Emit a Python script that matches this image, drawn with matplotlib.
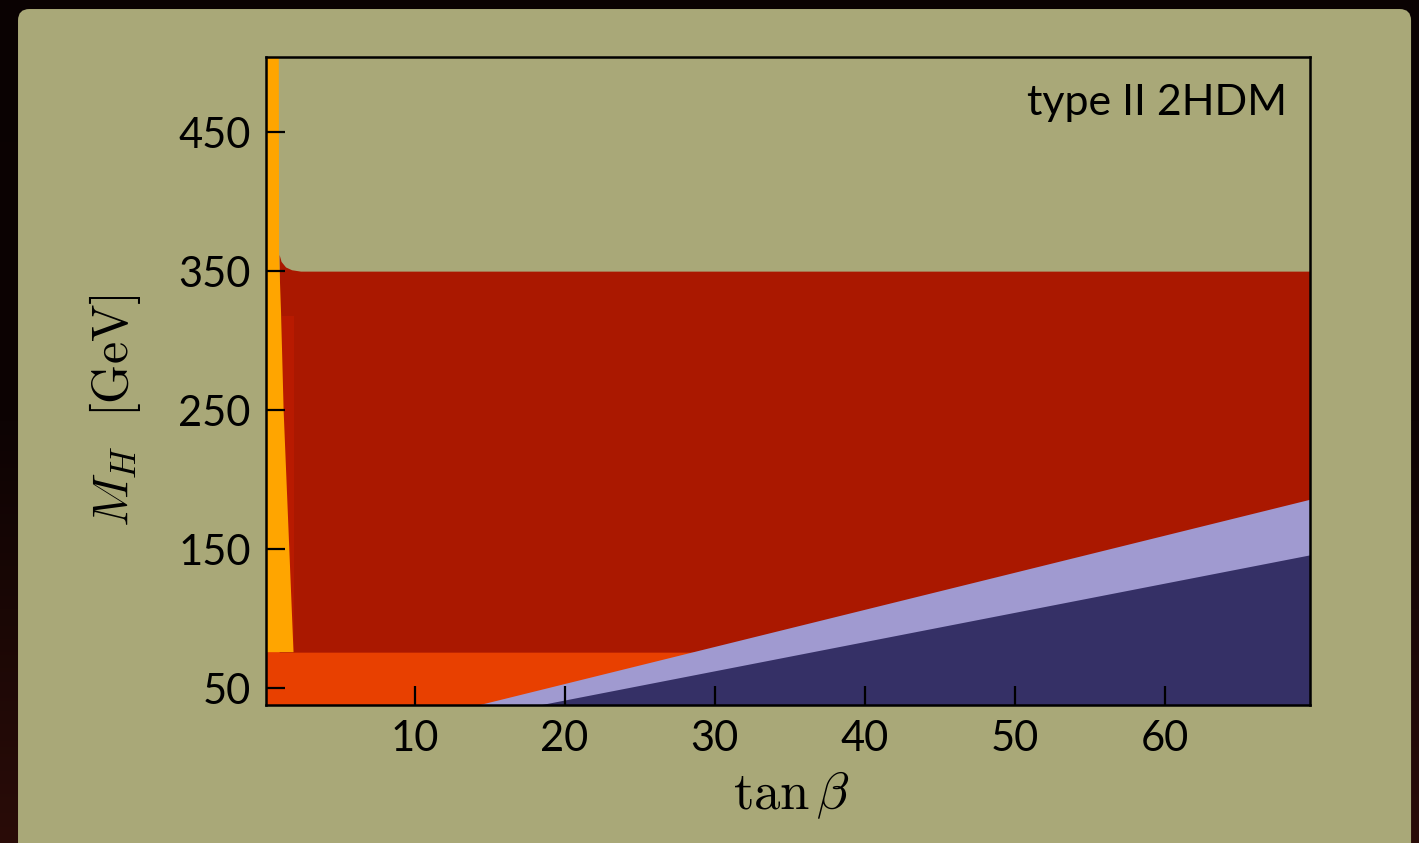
import matplotlib
matplotlib.use('Agg')
import matplotlib.pyplot as plt
import numpy as np
from matplotlib.patches import FancyBboxPatch

plt.rcParams['mathtext.fontset'] = 'cm'
plt.rcParams['font.family'] = ['Lato', 'DejaVu Sans']

# axis ranges
tanb_lim = [0.1, 69.7]
m_lim = [38, 504]

x_ticks = [10, 20, 30, 40, 50, 60]
y_ticks = [50, 150, 250, 350, 450]

# low-mass band (orange-red)
low_tanb = [0.1, 69.7]
low_top = [76, 76]

# big excluded region (dark red), rounded top-left corner
red_tanb = [0.97, 1.1, 1.4, 1.8, 2.4, 69.7]
red_top = [362, 357, 353, 351, 350, 350]
red_bottom = 76

# lighter red strip
strip_tanb = [1.15, 1.97]
strip_top = 318

# small tan beta band (orange)
orange_tanb = [0.1, 0.95, 0.97, 1.1, 1.27, 1.93, 0.1]
orange_m = [504, 504, 360, 320, 250, 76, 76]

# B -> tau nu type bands
lav_tanb = [14.2, 69.7]
lav_m = [38, 186]
blue_tanb = [18.3, 69.7]
blue_m = [38, 146]

khaki = '#A9A878'

fig = plt.figure(figsize=(14.19, 8.43), dpi=100)

# dark gradient background + khaki panel
bg = fig.add_axes([0, 0, 1, 1], zorder=-5)
grad = np.linspace(0, 1, 256).reshape(-1, 1)
cmap = matplotlib.colors.LinearSegmentedColormap.from_list('bg', ['#0a0202', '#0d0303', '#2a0c08'])
bg.imshow(grad, aspect='auto', cmap=cmap, extent=[0, 1, 0, 1], origin='upper')
bg.set_xlim(0, 1)
bg.set_ylim(0, 1)
bg.set_axis_off()

panel = FancyBboxPatch((0.0127, -0.05), 0.9817, 1.0393,
                       boxstyle='round,pad=0,rounding_size=0.008',
                       transform=bg.transAxes, facecolor=khaki, edgecolor='none',
                       mutation_aspect=1419 / 843)
bg.add_patch(panel)

ax = fig.add_axes([0.1875, 0.1637, 0.7357, 0.7687])
ax.set_facecolor(khaki)

ax.fill_between(low_tanb, m_lim[0], low_top, color='#E84000', lw=0)
ax.fill_between(red_tanb, red_bottom, red_top, color='#AA1800', lw=0)
ax.fill_between(strip_tanb, red_bottom, strip_top, color='#B81A00', lw=0)
ax.fill(orange_tanb, orange_m, color='#FFA500', lw=0)
ax.fill_between(lav_tanb, m_lim[0], lav_m, color='#A09AD0', lw=0)
ax.fill_between(blue_tanb, m_lim[0], blue_m, color='#353066', lw=0)

ax.set_xlim(tanb_lim)
ax.set_ylim(m_lim)
ax.set_xticks(x_ticks)
ax.set_yticks(y_ticks)
ax.tick_params(direction='in', length=14, width=1.6, labelsize=30, pad=11,
               top=False, right=False, colors='black')
for s in ax.spines.values():
    s.set_linewidth(1.8)

ax.set_xlabel(r'$\tan\beta$', fontsize=38)
ax.xaxis.set_label_coords(0.503, -0.1)
ax.set_ylabel(r'$M_H\ \ [\mathrm{GeV}]$', fontsize=36)
ax.yaxis.set_label_coords(-0.118, 0.455)

ax.text(0.978, 0.910, 'type II 2HDM', transform=ax.transAxes, ha='right',
        va='baseline', fontsize=31)

fig.savefig('out.png', dpi=100)
